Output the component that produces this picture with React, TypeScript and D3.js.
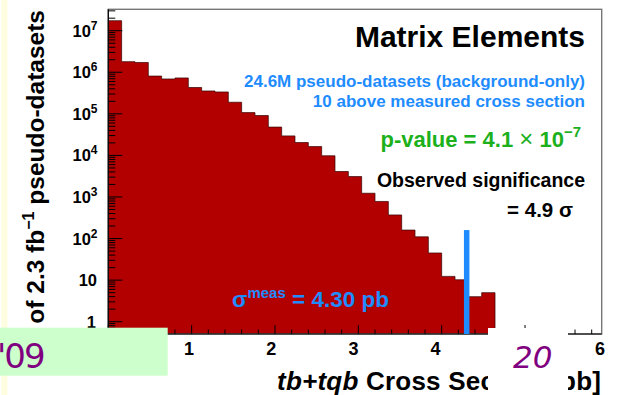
import React from 'react';
import * as d3 from 'd3';

// ---- data ----
const binWidth = 0.16;
const nBins = 37;
const binCounts = [
  1.74e7, 1.8e6, 1.72e6, 8.1e5, 6.9e5, 7.3e5, 4.3e5, 3.55e5, 3.36e5, 1.9e5,
  1.07e5, 9.1e4, 4.8e4, 2.95e4, 2.04e4, 1.63e4, 9.8e3, 4.1e3, 3.1e3, 1.23e3,
  7.8e2, 3.7e2, 1.6e2, 1.1e2, 45, 12.3, 10.2, 4.0, 5.0,
];
const xTickLabels = [0, 1, 2, 3, 4, 5, 6];
const yDecades = [0, 1, 2, 3, 4, 5, 6, 7];
const measuredXsec = 4.3;
const measuredLineTop = 160;
const yMin = 0.506;
const yMax = 3.27e7;

const FONT = "'Liberation Sans', Arial, Helvetica, sans-serif";
const RED = '#b20000';
const BLUE = '#1e8cff';
const GREEN = '#1cb01c';
const PURPLE = '#800080';

export default function App() {
  const W = 621;
  const H = 395;
  const left = 108.3;
  const right = 601.7;
  const top = 9.3;
  const bottom = 334;
  const xMax = nBins * binWidth;

  const x = d3.scaleLinear().domain([0, xMax]).range([left, right]);
  const xLab = d3.scaleLinear().domain([1, 6]).range([189, 600]);
  const y = d3.scaleLog().domain([yMin, yMax]).range([bottom, top]);

  // histogram step path
  let outline = '';
  binCounts.forEach((v, i) => {
    const x0 = x(i * binWidth);
    const x1 = x((i + 1) * binWidth);
    const yy = y(v);
    outline += (i === 0 ? `M${x0},${bottom}L${x0},${yy}` : `L${x0},${yy}`) + `L${x1},${yy}`;
  });
  const lastX = x(binCounts.length * binWidth);
  const fillPath = outline + `L${lastX},${bottom}Z`;
  const linePath = outline + `L${lastX},${bottom}`;

  // ticks
  const xTicks = d3.range(0, xMax + 1e-9, 0.2).map((v) => Math.round(v * 10) / 10);
  const yMinor: number[] = [];
  for (let k = -1; k <= 7; k++) {
    for (let m = 2; m <= 9; m++) {
      const v = m * Math.pow(10, k);
      if (v >= yMin && v <= yMax) yMinor.push(v);
    }
  }

  return (
    <svg
      width={W}
      height={H}
      style={{ position: 'absolute', left: 0, top: 0, background: '#fff' }}
      fontFamily={FONT}
    >
      <rect x={0} y={0} width={W} height={H} fill="#fff" />
      {/* yellowish strip at the far left */}
      <rect x={1.5} y={0} width={6} height={H} fill="#fffde0" />

      {/* histogram */}
      <path d={fillPath} fill={RED} />
      <path d={linePath} fill="none" stroke="#300" strokeWidth={0.7} />

      {/* frame */}
      <rect x={left} y={top} width={right - left} height={bottom - top} fill="none" stroke="#777" strokeWidth={1.4} />
      <line x1={left} x2={left} y1={top} y2={bottom} stroke="#000" strokeWidth={1.2} />
      <line x1={left} x2={right} y1={bottom} y2={bottom} stroke="#000" strokeWidth={1.2} />

      {/* y ticks */}
      {yDecades.map((d) => (
        <line key={'ym' + d} x1={left} x2={left + 14} y1={y(Math.pow(10, d))} y2={y(Math.pow(10, d))} stroke="#000" strokeWidth={1} />
      ))}
      {yMinor.map((v, i) => (
        <line key={'yn' + i} x1={left} x2={left + 7} y1={y(v)} y2={y(v)} stroke="#000" strokeWidth={1} />
      ))}
      {/* x ticks */}
      {xTicks.map((v, i) => {
        const major = Math.abs(v - Math.round(v)) < 1e-6;
        return (
          <line key={'xt' + i} x1={x(v)} x2={x(v)} y1={bottom} y2={bottom - (major ? 9 : 4.5)} stroke="#000" strokeWidth={1} />
        );
      })}

      {/* y tick labels */}
      {yDecades.map((d) => {
        const yy = y(Math.pow(10, d)) + 6;
        if (d === 0) {
          return (
            <text key={'yl' + d} x={96} y={yy} textAnchor="end" fontSize={16.5} fontWeight="bold" fill="#000">1</text>
          );
        }
        if (d === 1) {
          return (
            <text key={'yl' + d} x={97} y={yy} textAnchor="end" fontSize={16.5} fontWeight="bold" fill="#000">10</text>
          );
        }
        return (
          <text key={'yl' + d} x={97.5} y={yy} textAnchor="end" fontWeight="bold" fill="#000" fontSize={16.5}>
            10
            <tspan fontSize={12} dy={-7}>{d}</tspan>
          </text>
        );
      })}

      {/* x tick labels */}
      {xTickLabels.map((v) => (
        <text key={'xl' + v} x={xLab(v)} y={355} textAnchor="middle" fontSize={18} fontWeight="bold" fill="#000">{v}</text>
      ))}

      {/* x title */}
      <text x={277} y={390} fontSize={26} fontWeight="bold" fill="#000" textLength={324} lengthAdjust="spacing">
        <tspan fontStyle="italic">tb+tqb</tspan> Cross Section [pb]
      </text>

      {/* y title */}
      <text transform="translate(44,10) rotate(-90)" textAnchor="end" fontSize={24.5} fontWeight="bold" fill="#000">
        No. of 2.3 fb<tspan fontSize={16} dy={-10}>−1</tspan><tspan dy={10}> pseudo-datasets</tspan>
      </text>

      {/* measured line */}
      <line x1={x(measuredXsec)} x2={x(measuredXsec)} y1={y(measuredLineTop)} y2={bottom} stroke={BLUE} strokeWidth={5.5} />

      {/* annotations */}
      <text x={585} y={46.7} textAnchor="end" fontSize={30} fontWeight="bold" fill="#000">Matrix Elements</text>
      <text x={585} y={87} textAnchor="end" fontSize={17} fontWeight="bold" fill={BLUE}>24.6M pseudo-datasets (background-only)</text>
      <text x={585} y={107} textAnchor="end" fontSize={17} fontWeight="bold" fill={BLUE}>10 above measured cross section</text>
      <text x={581} y={146.7} textAnchor="end" fontSize={22} fontWeight="bold" fill={GREEN}>
        p-value = 4.1 <tspan fontWeight="normal" fontSize={24}>×</tspan> 10<tspan fontSize={15} dy={-10}>−7</tspan>
      </text>
      <text x={585} y={186.7} textAnchor="end" fontSize={19.5} fontWeight="bold" fill="#000">Observed significance</text>
      <text x={573} y={216.7} textAnchor="end" fontSize={20.5} fontWeight="bold" fill="#000">= 4.9 σ</text>
      <text x={232} y={306.7} fontSize={22.5} fontWeight="bold" fill={BLUE}>
        σ<tspan fontSize={15} dy={-9}>meas</tspan><tspan dy={9}> = 4.30 pb</tspan>
      </text>

      {/* overlays */}
      <rect x={488} y={328} width={80} height={H - 328} fill="#fff" />
      <rect x={0} y={327.7} width={167.7} height={48} fill="#ccffcc" />
      <text x={-3} y={368.3} fontSize={34} letterSpacing={-2} fontStyle="normal" fontFamily="DejaVu Sans, sans-serif" fill={PURPLE}>'09</text>
      <text x={513} y={368.3} fontSize={31} fontStyle="italic" fontFamily="DejaVu Sans, sans-serif" fill={PURPLE}>20</text>
    </svg>
  );
}
